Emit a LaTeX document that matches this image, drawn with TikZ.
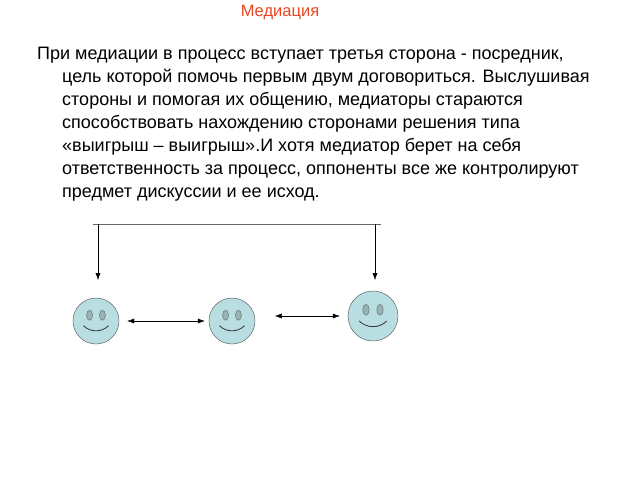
\documentclass[tikz,border=0pt]{standalone}
\usepackage{fontspec}
\setmainfont{Liberation Sans}
\usetikzlibrary{arrows.meta}
\definecolor{facefill}{RGB}{184,222,226}
\definecolor{eyefill}{RGB}{150,180,180}
\definecolor{titlered}{RGB}{235,70,35}
\tikzset{
  txtline/.style={anchor=base west, inner sep=0pt, font=\fontsize{18}{22}\selectfont},
  smiley/.style={circle, draw=black!70, fill=facefill, minimum size=#1, inner sep=0pt},
  link/.style={-{Latex[length=7pt,width=5pt]}, black},
  bilink/.style={{Latex[length=7pt,width=5pt]}-{Latex[length=7pt,width=5pt]}, black}
}
\newcommand{\smileface}[3]{% name, center, radius
  \node[smiley=#3*2pt] (#1) at #2 {};
  \draw[fill=eyefill, draw=black!60] ([xshift=-0.28*#3pt, yshift=0.25*#3pt]#1.center) ellipse ({0.13*#3pt} and {0.22*#3pt});
  \draw[fill=eyefill, draw=black!60] ([xshift=0.28*#3pt, yshift=0.25*#3pt]#1.center) ellipse ({0.13*#3pt} and {0.22*#3pt});
  \draw[black!80, thick] ([xshift=-0.55*#3pt, yshift=-0.2*#3pt]#1.center) to[bend right=45] ([xshift=0.55*#3pt, yshift=-0.2*#3pt]#1.center);
}
\begin{document}
\begin{tikzpicture}[x=1pt, y=-1pt]
	\useasboundingbox (0,0) rectangle (640,480);
	\node[font=\fontsize{16.5}{20}\selectfont, text=titlered] (title) at (280,12) {Медиация};

	\node[txtline] (l1) at (37,59) {При медиации в процесс вступает третья сторона - посредник,};
	\node[txtline] (l2) at (62,82) {цель которой помочь первым двум договориться. Выслушивая};
	\node[txtline] (l3) at (62,105) {стороны и помогая их общению, медиаторы стараются};
	\node[txtline] (l4) at (62,128) {способствовать нахождению сторонами решения типа};
	\node[txtline] (l5) at (62,151) {«выигрыш – выигрыш».И хотя медиатор берет на себя};
	\node[txtline] (l6) at (62,174) {ответственность за процесс, оппоненты все же контролируют};
	\node[txtline] (l7) at (62,197) {предмет дискуссии и ее исход.};

	% faces
	\smileface{fa}{(96,321)}{23}
	\smileface{fb}{(232,321)}{23}
	\smileface{fc}{(373,316)}{25}

	% top bracket
	\coordinate (tl) at (93,224);
	\coordinate (tr) at (381,224);
	\coordinate (dl) at (98,224);
	\coordinate (dr) at (375,224);
	\draw[black!60] (tl) -- (tr);
	\draw[link] (dl) -- (98,280);
	\draw[link] (dr) -- (375,280);

	% between faces
	\draw[bilink] ([xshift=8pt]fa.east) -- ([xshift=-4pt]fb.west);
	\draw[bilink] ([xshift=-73pt]fc.west) -- ([xshift=-8pt]fc.west);
\end{tikzpicture}
\end{document}
